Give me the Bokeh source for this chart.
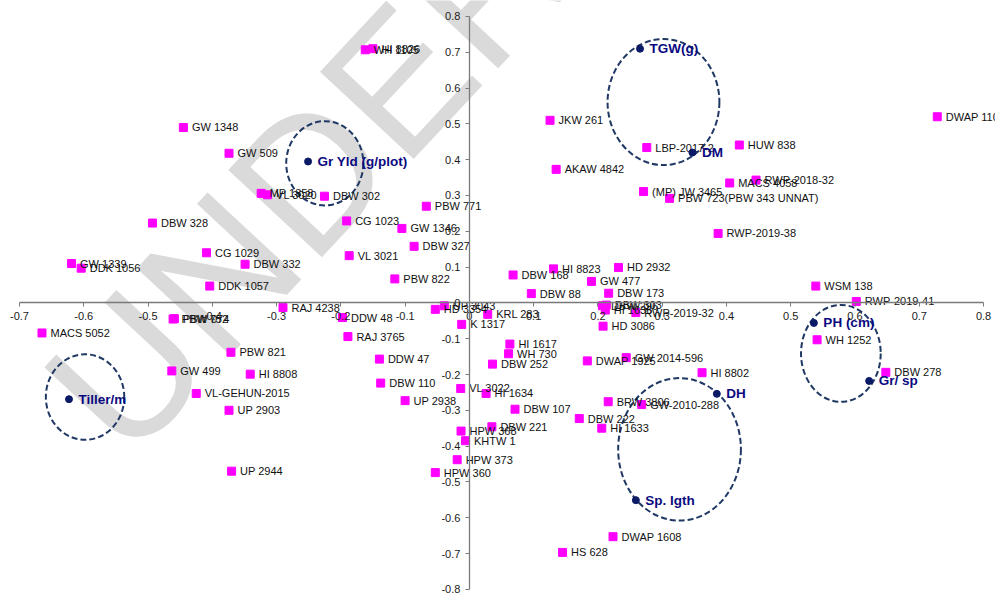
from bokeh.plotting import figure
from bokeh.models import Range1d, FixedTicker, ColumnDataSource
from bokeh.core.properties import value
from bokeh.embed import file_html
from bokeh.resources import INLINE

# ---------------- data ----------------
geno_names = [
    "WH 1105", "HI 8826", "GW 1348", "GW 509", "MP 1358", "VL 3020", "DBW 302", "PBW 771",
    "DBW 328", "CG 1023", "GW 1346", "DBW 327", "VL 3021", "CG 1029", "DBW 332", "GW 1339",
    "DDK 1056", "PBW 822", "DDK 1057", "RAJ 4238", "HD 3354", "UP 3043", "MACS 5052", "PBW 752",
    "PBW 074", "DDW 48", "KRL 283", "K 1317", "RAJ 3765", "PBW 821", "DDW 47", "GW 499",
    "HI 8808", "DBW 110", "VL-GEHUN-2015", "UP 2938", "UP 2903", "VL 3022", "HPW 368", "KHTW 1",
    "HPW 373", "HPW 360", "UP 2944", "HI 1617", "WH 730", "DBW 252", "HI 1634", "DBW 107",
    "DBW 221", "JKW 261", "LBP-2017-2", "HUW 838", "AKAW 4842", "MACS 4058", "RWP-2018-32",
    "(MP) JW 3465", "PBW 723(PBW 343 UNNAT)", "DWAP 1108", "RWP-2019-38", "DBW 168", "HI 8823",
    "HD 2932", "GW 477", "DBW 88", "DBW 173", "WSM 138", "RWP-2019-41", "DBW 296", "DBW 303",
    "HI 1636", "RWP-2019-32", "HD 3086", "DWAP 1925", "GW 2014-596", "HI 8802", "WH 1252",
    "DBW 278", "BRW 3806", "GW-2010-288", "DBW 222", "HI 1633", "DWAP 1608", "HS 628",
]
geno_x = [
    -0.162, -0.150, -0.445, -0.374, -0.324, -0.314, -0.2255, -0.067,
    -0.493, -0.191, -0.105, -0.086, -0.187, -0.409, -0.349, -0.619,
    -0.604, -0.116, -0.404, -0.290, -0.053, -0.039, -0.665, -0.461,
    -0.459, -0.1975, 0.0285, -0.012, -0.189, -0.371, -0.140, -0.463,
    -0.341, -0.138, -0.425, -0.100, -0.374, -0.0135, -0.013, -0.006,
    -0.019, -0.053, -0.370, 0.063, 0.061, 0.036, 0.026, 0.071,
    0.035, 0.1255, 0.276, 0.420, 0.135, 0.405, 0.446,
    0.271, 0.3115, 0.728, 0.387, 0.068, 0.131,
    0.232, 0.190, 0.0964, 0.2167, 0.539, 0.602, 0.207, 0.213,
    0.2115, 0.259, 0.208, 0.1835, 0.244, 0.362, 0.541,
    0.648, 0.216, 0.268, 0.171, 0.206, 0.2235, 0.145,
]
geno_y = [
    0.707, 0.710, 0.490, 0.418, 0.306, 0.302, 0.298, 0.270,
    0.223, 0.229, 0.208, 0.158, 0.132, 0.140, 0.108, 0.110,
    0.097, 0.067, 0.047, -0.013, -0.018, -0.008, -0.084, -0.045,
    -0.044, -0.041, -0.032, -0.060, -0.094, -0.138, -0.157, -0.190,
    -0.199, -0.224, -0.253, -0.273, -0.300, -0.239, -0.358, -0.385,
    -0.438, -0.474, -0.470, -0.115, -0.142, -0.171, -0.253, -0.297,
    -0.346, 0.510, 0.434, 0.441, 0.373, 0.335, 0.343,
    0.311, 0.292, 0.520, 0.194, 0.078, 0.095,
    0.099, 0.060, 0.026, 0.027, 0.047, 0.004, -0.008, -0.006,
    -0.020, -0.027, -0.065, -0.162, -0.153, -0.195, -0.103,
    -0.194, -0.276, -0.284, -0.323, -0.350, -0.653, -0.697,
]

trait_names = ["TGW(g)", "DM", "Gr Yld (g/plot)", "Tiller/m", "PH (cm)", "Gr/ sp", "DH", "Sp. lgth"]
trait_x = [0.2655, 0.347, -0.251, -0.623, 0.536, 0.622, 0.385, 0.259]
trait_y = [0.710, 0.420, 0.395, -0.269, -0.056, -0.218, -0.254, -0.551]

group_cx = [0.302, -0.225, -0.598, 0.578, 0.327]
group_cy = [0.561, 0.390, -0.263, -0.141, -0.409]
group_w = [0.174, 0.120, 0.122, 0.124, 0.191]
group_h = [0.352, 0.2355, 0.239, 0.271, 0.398]

x_ticks = [-0.7, -0.6, -0.5, -0.4, -0.3, -0.2, -0.1, 0.0, 0.1, 0.2, 0.3, 0.4, 0.5, 0.6, 0.7, 0.8]
x_tick_labels = ["-0.7", "-0.6", "-0.5", "-0.4", "-0.3", "-0.2", "-0.1", "0",
                 "0.1", "0.2", "0.3", "0.4", "0.5", "0.6", "0.7", "0.8"]
y_ticks = [-0.8, -0.7, -0.6, -0.5, -0.4, -0.3, -0.2, -0.1, 0.0, 0.1, 0.2, 0.3, 0.4, 0.5, 0.6, 0.7, 0.8]
y_tick_labels = ["-0.8", "-0.7", "-0.6", "-0.5", "-0.4", "-0.3", "-0.2", "-0.1", "0",
                 "0.1", "0.2", "0.3", "0.4", "0.5", "0.6", "0.7", "0.8"]

watermark_text = ["UNDER PEER REVIEW"]
watermark_x = [-0.604]
watermark_y = [-0.330]

# ---------------- figure ----------------
FONT = "Liberation Sans"
p = figure(width=995, height=596, output_backend="svg", toolbar_location=None,
           x_range=Range1d(-0.72956, 0.8186), y_range=Range1d(-0.82011, 0.84469),
           min_border=0, min_border_left=0, min_border_right=0,
           min_border_top=0, min_border_bottom=0)
p.outline_line_color = None
p.xgrid.visible = False
p.ygrid.visible = False
p.background_fill_color = "white"
p.border_fill_color = "white"

# watermark
p.text(x=watermark_x, y=watermark_y, text=watermark_text, angle=47, angle_units="deg",
       text_font=value(FONT), text_font_size="186px", text_color="#dadada",
       text_align="left", text_baseline="alphabetic")

# ellipses
p.ellipse(x=group_cx, y=group_cy, width=group_w, height=group_h,
          fill_color=None, line_color="#203864", line_width=2, line_dash="6 3")

# genotypes
gsrc = ColumnDataSource(dict(x=geno_x, y=geno_y, name=geno_names))
p.scatter(x="x", y="y", source=gsrc, marker="square", size=8,
          fill_color="#FF00FF", line_color="#FF00FF")
p.text(x="x", y="y", text="name", source=gsrc, x_offset=8.5,
       text_font=value(FONT), text_font_size="11px", text_color="#111111",
       text_baseline="middle", text_align="left")

# traits
tsrc = ColumnDataSource(dict(x=trait_x, y=trait_y, name=trait_names))
p.scatter(x="x", y="y", source=tsrc, marker="circle", size=7,
          fill_color="#0b1a66", line_color="#0b1a66")
p.text(x="x", y="y", text="name", source=tsrc, x_offset=9.5,
       text_font=value(FONT), text_font_size="13.5px", text_font_style="bold",
       text_color="#0a0a80", text_baseline="middle", text_align="left")

# axes crossing at origin
for ax, ticks, labels, bnds in ((p.xaxis, x_ticks, x_tick_labels, (-0.7, 0.8)),
                                (p.yaxis, y_ticks, y_tick_labels, (-0.8, 0.8))):
    ax.fixed_location = 0
    ax.bounds = bnds
    ax.ticker = FixedTicker(ticks=ticks)
    ax.major_label_overrides = {t: l for t, l in zip(ticks, labels)}
    ax.minor_tick_line_color = None
    ax.major_tick_in = 0
    ax.major_tick_out = 4
    ax.axis_line_color = "#7a7a7a"
    ax.axis_line_width = 1.3
    ax.major_tick_line_color = "#7a7a7a"
    ax.major_label_text_font = FONT
    ax.major_label_text_font_size = "11px"
    ax.major_label_text_color = "#1a1a1a"
    ax.major_label_standoff = 5

open("out.html", "w").write(file_html(p, INLINE))
